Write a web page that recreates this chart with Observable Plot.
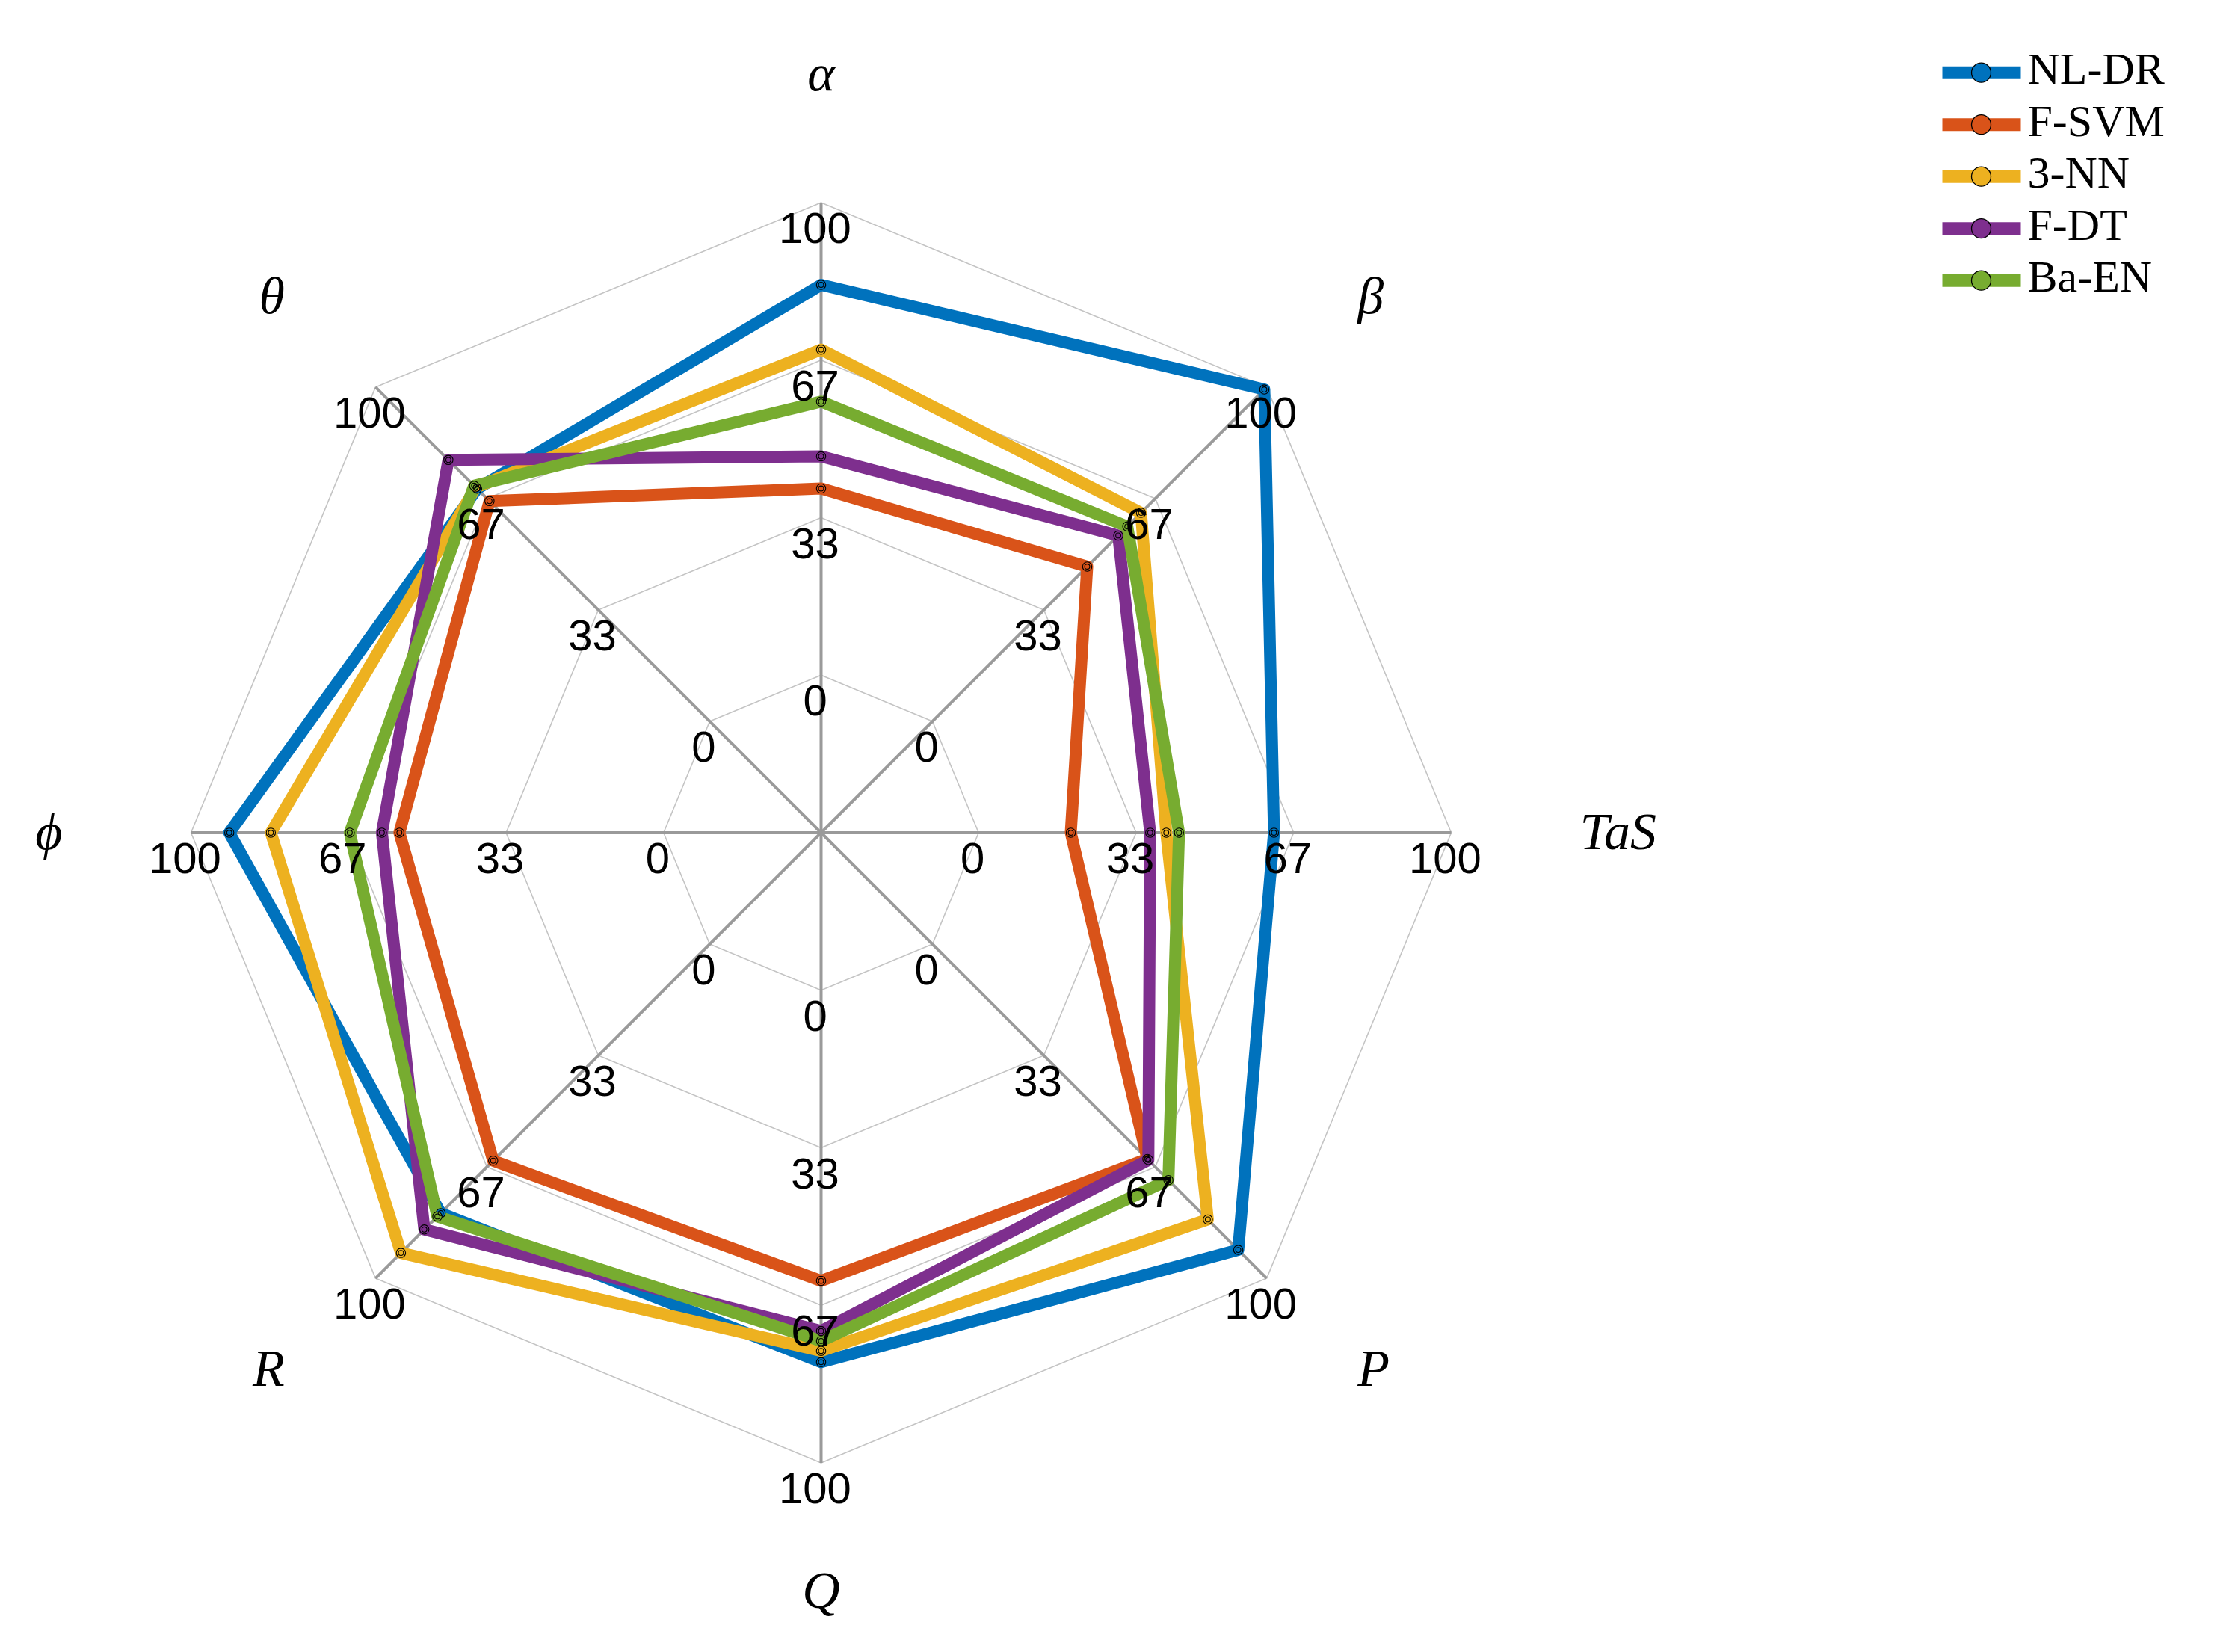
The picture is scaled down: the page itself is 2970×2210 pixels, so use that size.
<!DOCTYPE html>
<html><head><meta charset="utf-8">
<script src="https://cdn.jsdelivr.net/npm/d3@7"></script>
<script src="https://cdn.jsdelivr.net/npm/@observablehq/plot@0.6"></script>
<style>html,body{margin:0;padding:0;background:#fff;}</style>
</head><body><div id="chart"></div>
<script>
// ---- data ----
const axisLabels = ["α", "β", "TaS", "P", "Q", "R", "ϕ", "θ"];
const seriesNames = ["NL-DR", "F-SVM", "3-NN", "F-DT", "Ba-EN"];
const seriesColors = ["#0072BD", "#D95319", "#EDB120", "#7E2F8E", "#77AC30"];
const valuesNLDR = [82.6, 99.3, 62.5, 91.5, 78.7, 80.5, 91.9, 69.6];
const valuesFSVM = [39.5, 46.3, 19.5, 64.3, 61.5, 64.8, 55.9, 65.9];
const values3NN  = [68.9, 62.4, 39.7, 82.4, 76.3, 92.4, 83.1, 70.0];
const valuesFDT  = [46.3, 55.6, 36.3, 64.6, 72.1, 85.4, 59.6, 78.2];
const valuesBaEN = [57.9, 58.3, 42.4, 70.6, 74.2, 81.5, 66.4, 70.5];
const tickValues = [0, 33.33, 66.67, 100];
const tickLabels = ["0", "33", "67", "100"];
const radialMin = -33.33, radialMax = 100;

// ---- layout ----
const W = 2970, H = 2210, CX = 1098, CY = 1113.5, R = 843;
const ux = px => (px - CX) / R;
const uy = py => (CY - py) / R;
const rad = v => (v - radialMin) / (radialMax - radialMin);
const N = axisLabels.length;
const ang = i => i * 2 * Math.PI / N;
const px = (i, v) => rad(v) * Math.sin(ang(i));
const py = (i, v) => rad(v) * Math.cos(ang(i));

const allValues = [valuesNLDR, valuesFSVM, values3NN, valuesFDT, valuesBaEN];
const points = [];
allValues.forEach((vals, s) => vals.forEach((v, i) => points.push({series: seriesNames[s], s, i, v, x: px(i, v), y: py(i, v)})));

const rings = [];
tickValues.forEach((t, k) => axisLabels.forEach((a, i) => rings.push({k, x: px(i, t), y: py(i, t)})));
const spokes = axisLabels.map((a, i) => ({x1: px(i, radialMin), y1: py(i, radialMin), x2: px(i, radialMax), y2: py(i, radialMax)}));
const ticks = [];
axisLabels.forEach((a, i) => tickValues.forEach((t, k) => ticks.push({text: tickLabels[k], x: px(i, t), y: py(i, t)})));

const labelR = 1.204;
const axisText = axisLabels.map((a, i) => {
  const s = Math.sin(ang(i));
  return {text: a, x: labelR * s, y: labelR * Math.cos(ang(i)),
    anchor: Math.abs(s) < 1e-6 ? "middle" : (s > 0 ? "start" : "end")};
});

const legend = seriesNames.map((n, i) => ({name: n, color: seriesColors[i],
  x1: ux(2598), x2: ux(2703), xm: ux(2650), xt: ux(2712), y: uy(96.7 + i * 69.5)}));

const color = {domain: seriesNames, range: seriesColors};
const labelFont = {text: "text", lineAnchor: "middle", fontSize: 70, fontStyle: "italic",
  fontFamily: "Liberation Serif, DejaVu Serif, serif", fill: "#000"};

const plot = Plot.plot({
  width: W, height: H,
  marginTop: 0, marginBottom: 0, marginLeft: 0, marginRight: 0,
  x: {domain: [ux(0), ux(W)], range: [0, W], axis: null},
  y: {domain: [uy(H), uy(0)], range: [H, 0], axis: null},
  color,
  style: {background: "#fff"},
  marks: [
    Plot.line(rings, {x: "x", y: "y", z: "k", curve: "linear-closed", stroke: "#c4c4c4", strokeWidth: 1.6}),
    Plot.link(spokes, {x1: "x1", y1: "y1", x2: "x2", y2: "y2", stroke: "#9a9a9a", strokeWidth: 4}),
    Plot.line(points, {x: "x", y: "y", z: "series", stroke: d => d.series, curve: "linear-closed", strokeWidth: 16, strokeLinejoin: "round"}),
    Plot.dot(points, {x: "x", y: "y", r: 6.2, fill: d => d.series, stroke: "#000", strokeWidth: 1.1}),
    Plot.dot(points, {x: "x", y: "y", r: 3.4, fill: "none", stroke: "#000", strokeWidth: 1.1}),
    Plot.text(ticks, {x: "x", y: "y", text: "text", lineAnchor: "top", textAnchor: "middle", dx: -8, dy: 13,
      fontSize: 58, fontFamily: "Liberation Sans, Arial, sans-serif", fill: "#000"}),
    Plot.text(axisText.filter(d => d.anchor === "middle"), {x: "x", y: "y", textAnchor: "middle", ...labelFont}),
    Plot.text(axisText.filter(d => d.anchor === "start"), {x: "x", y: "y", textAnchor: "start", ...labelFont}),
    Plot.text(axisText.filter(d => d.anchor === "end"), {x: "x", y: "y", textAnchor: "end", ...labelFont}),
    Plot.link(legend, {x1: "x1", x2: "x2", y1: "y", y2: "y", stroke: "name", strokeWidth: 17}),
    Plot.dot(legend, {x: "xm", y: "y", r: 13, fill: "name", stroke: "#000", strokeWidth: 1.3}),
    Plot.text(legend, {x: "xt", y: "y", text: "name", textAnchor: "start", lineAnchor: "middle", dy: -4,
      fontSize: 60, fontFamily: "Liberation Serif, DejaVu Serif, serif", fill: "#000"})
  ]
});
document.getElementById("chart").appendChild(plot);
</script>
</body></html>
